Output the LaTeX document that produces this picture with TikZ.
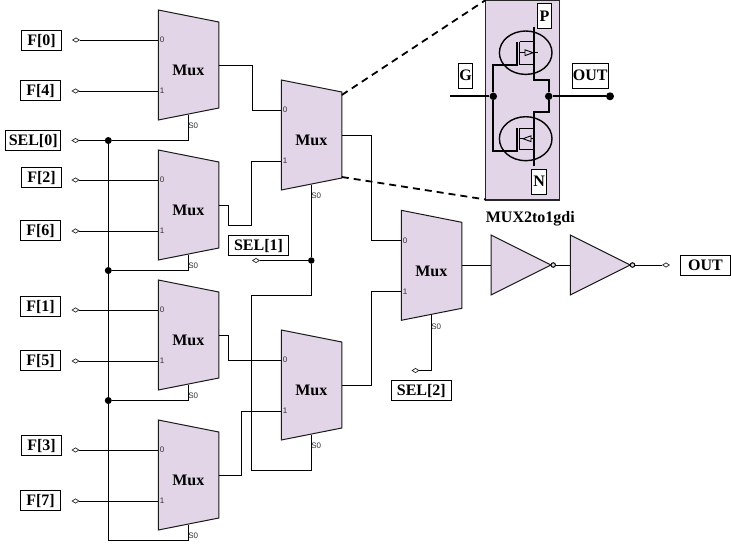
\documentclass[tikz,border=0pt]{standalone}
\usepackage{fontspec}
\setmainfont{Liberation Serif}
\newfontfamily\smallsans{Liberation Sans}
\usetikzlibrary{shapes.geometric,arrows.meta}
\definecolor{lilac}{HTML}{E1D5E7}
\tikzset{
  wire/.style={line width=1pt,black},
  fet/.style={line width=1.7pt,black,line join=miter},
  muxbody/.style={draw=black!90,fill=lilac,line width=1pt},
  lab/.style={draw=black,fill=white,line width=1pt,inner sep=0pt,font=\fontsize{16}{16}\selectfont\bfseries,minimum height=20pt,text height=10.5pt,text depth=0pt},
  tall/.style={lab,minimum height=25pt},
  pin/.style={font=\smallsans\fontsize{8}{8}\selectfont,text=black!80,inner sep=0pt},
  muxname/.style={font=\fontsize{16}{16}\selectfont\bfseries,inner sep=0pt,text height=10.5pt,text depth=0pt},
  port/.style={diamond,draw=black!85,fill=white,line width=0.7pt,inner sep=0pt,minimum width=7pt,minimum height=4.5pt,aspect=1.6},
  junction/.style={circle,fill=black,inner sep=0pt,minimum size=7pt},
  bubble/.style={circle,draw=black,fill=lilac,line width=1pt,inner sep=0pt,minimum size=4.5pt},
  zoomline/.style={line width=1.8pt,dash pattern=on 7pt off 5pt},
}
\newcommand{\muxblock}[3]{%
  \path[muxbody,draw] (#2,#3) -- (#2+60.5,#3+12) -- (#2+60.5,#3+98) -- (#2,#3+110) -- cycle;
  \node[muxname] (#1) at (#2+30,#3+60.5) {Mux};
  \node[pin] (#1-n0) at (#2+3.7,#3+30) {0};
  \node[pin] (#1-n1) at (#2+3.7,#3+81) {1};
  \node[pin] (#1-ns) at (#2+35,#3+116) {S0};
  \coordinate (#1-i0) at (#2,#3+30);
  \coordinate (#1-i1) at (#2,#3+81);
  \coordinate (#1-o) at (#2+60.5,#3+55);
  \coordinate (#1-s) at (#2+30,#3+104.5);
}
\begin{document}
\begin{tikzpicture}[x=1pt,y=-1pt]
\useasboundingbox (0,0) rectangle (731,550);
\fill[white] (0,0) rectangle (731,550);

% multiplexers
\muxblock{ma}{158.3}{10}
\muxblock{mb}{158.3}{150}
\muxblock{mc}{158.3}{280}
\muxblock{md}{158.3}{420}
\muxblock{me}{281.3}{80}
\muxblock{mf}{281.3}{330}
\muxblock{mg}{401.3}{210.3}

% input labels and ports
\node[lab,minimum width=40pt] (F0) at (41.5,40.3) {F[0]};
\node[lab,minimum width=40pt] (F4) at (40.5,90.5) {F[4]};
\node[lab,minimum width=54.5pt] (S0) at (33.2,140.5) {SEL[0]};
\node[lab,minimum width=40pt] (F2) at (41.5,177.5) {F[2]};
\node[lab,minimum width=40pt] (F6) at (40.5,230.5) {F[6]};
\node[lab,minimum width=40pt] (F1) at (40.5,306.5) {F[1]};
\node[lab,minimum width=40pt] (F5) at (40.5,360.5) {F[5]};
\node[lab,minimum width=40pt] (F3) at (41.5,445) {F[3]};
\node[lab,minimum width=40pt] (F7) at (40.5,500.5) {F[7]};
\node[lab,minimum width=60pt] (S1) at (258.5,245.3) {SEL[1]};
\node[lab,minimum width=60pt] (S2) at (421.3,390.3) {SEL[2]};
\node[lab,minimum width=50pt] (OUTB) at (705.5,265) {OUT};

\node[port] (pF0) at (76,40) {};
\node[port] (pF4) at (75.5,91) {};
\node[port] (pS0) at (75.5,140.5) {};
\node[port] (pF2) at (75.5,180) {};
\node[port] (pF6) at (75.5,231) {};
\node[port] (pF1) at (75.5,310) {};
\node[port] (pF5) at (75.5,361) {};
\node[port] (pF3) at (75.5,450) {};
\node[port] (pF7) at (75.5,501) {};
\node[port] (pS1) at (256,260.5) {};
\node[port] (pS2) at (415.5,370.5) {};
\node[port] (pOUT) at (666,265) {};

% inputs
\draw[wire] (pF0.east) -- (ma-i0);
\draw[wire] (pF4.east) -- (ma-i1);
\draw[wire] (pF2.east) -- (mb-i0);
\draw[wire] (pF6.east) -- (mb-i1);
\draw[wire] (pF1.east) -- (mc-i0);
\draw[wire] (pF5.east) -- (mc-i1);
\draw[wire] (pF3.east) -- (md-i0);
\draw[wire] (pF7.east) -- (md-i1);

% SEL[0] net
\node[junction] (j0) at (108.3,140.5) {};
\node[junction] (j1) at (108.3,270.5) {};
\node[junction] (j2) at (108.3,400.5) {};
\coordinate (j3) at (108.3,540.3);
\draw[wire] (pS0.east) -- (j0);
\draw[wire] (j0) -- (ma-s |- j0) -- (ma-s);
\draw[wire] (j1) -- (mb-s |- j1) -- (mb-s);
\draw[wire] (j2) -- (mc-s |- j2) -- (mc-s);
\draw[wire] (j0) -- (j1) -- (j2) -- (j3) -- (md-s |- j3) -- (md-s);

% first stage to second stage
\coordinate (ra) at (252,65);
\draw[wire] (ma-o) -- (ra) -- (ra |- me-i0) -- (me-i0);
\coordinate (rb1) at (228.5,205);
\coordinate (rb2) at (228.5,225);
\coordinate (rb3) at (251.5,225);
\draw[wire] (mb-o) -- (rb1) -- (rb2) -- (rb3) -- (rb3 |- me-i1) -- (me-i1);
\coordinate (rc) at (228.5,335);
\draw[wire] (mc-o) -- (rc) -- (rc |- mf-i0) -- (mf-i0);
\coordinate (rd) at (241.7,475);
\draw[wire] (md-o) -- (rd) -- (rd |- mf-i1) -- (mf-i1);

% SEL[1] net
\node[junction,minimum size=6.5pt] (j4) at (311.3,260.5) {};
\coordinate (k1) at (311.3,295.5);
\coordinate (k2) at (251.7,295.5);
\coordinate (k3) at (251.7,470.3);
\draw[wire] (pS1.east) -- (j4);
\draw[wire] (me-s) -- (j4) -- (k1) -- (k2) -- (k3) -- (mf-s |- k3) -- (mf-s);

% second stage to third stage
\coordinate (re) at (371.7,135);
\draw[wire] (me-o) -- (re) -- (re |- mg-i0) -- (mg-i0);
\coordinate (rf) at (371.7,385);
\draw[wire] (mf-o) -- (rf) -- (rf |- mg-i1) -- (mg-i1);

% SEL[2]
\draw[wire] (mg-s) -- (mg-s |- pS2) -- (pS2.east);

% output buffers
\path[muxbody] (491,235) -- (551,265) -- (491,295) -- cycle;
\path[muxbody] (570.3,235) -- (630.3,265) -- (570.3,295) -- cycle;
\node[bubble] (ba) at (553.2,265) {};
\node[bubble] (bb) at (632.5,265) {};
\coordinate (ta) at (491,265);
\coordinate (tb) at (570.3,265);
\draw[wire] (mg-o |- ta) -- (ta);
\draw[wire] (ba) -- (tb);
\draw[wire] (bb) -- (pOUT.west);

% zoom panel
\draw[draw=black!85,fill=lilac,line width=1.2pt] (485.7,0) rectangle (559.3,200);
\coordinate (za) at (341.8,95);
\coordinate (zb) at (485.7,0);
\coordinate (zc) at (341.8,177);
\coordinate (zd) at (485.7,199.5);
\draw[zoomline] (za) -- (zb);
\draw[zoomline] (zc) -- (zd);

% transistors
\draw[line width=1.4pt] (525.7,52.7) ellipse [x radius=26.3,y radius=21.7];
\draw[line width=1.4pt] (525.7,138.7) ellipse [x radius=26.3,y radius=22];

\node[junction,minimum size=7.5pt] (ng) at (493.3,96.3) {};
\node[junction,minimum size=7.5pt] (no) at (548.7,96.3) {};
\node[junction,minimum size=8pt] (nt) at (610,96.3) {};
\coordinate (gin) at (450,96.3);
\draw[fet] (gin) -- (ng);
\draw[fet] (no) -- (nt);
% gate rail
\coordinate (gp) at (517.3,65.3);
\coordinate (gn) at (517.3,150.7);
\draw[fet] (ng) -- (ng |- gp) -- (gp) -- (517.3,41.7);
\draw[fet] (ng) -- (ng |- gn) -- (gn) -- (517.3,128.3);
% P device
\draw[line width=1pt] (519.6,41.7) -- (519.6,65);
\draw[fet] (534,26.7) -- (534,80) -- (548.7,80) -- (no);
\draw[line width=1.2pt] (519.6,41.7) -- (534,41.7);
\draw[line width=1.2pt] (519.6,64.5) -- (534,64.5);
\draw[line width=0.9pt] (519.6,52.7) -- (525,52.7);
\draw[line width=0.9pt,fill=lilac] (525,49.8) -- (533,52.7) -- (525,55.6) -- cycle;
\draw[line width=0.9pt] (533,52.7) -- (537.5,52.7);
% N device
\draw[line width=1pt] (519.6,128.3) -- (519.6,150);
\draw[fet] (no) -- (548.7,112) -- (534,112) -- (534,165.7);
\draw[line width=1.2pt] (519.6,128.3) -- (534,128.3);
\draw[line width=1.2pt] (519.6,149.3) -- (534,149.3);
\draw[line width=0.9pt] (519.6,138.7) -- (534,138.7);
\draw[line width=0.9pt,fill=lilac] (531,135.8) -- (523,138.7) -- (531,141.6) -- cycle;

% panel labels
\node[tall,minimum width=14pt] (G) at (465.7,75.5) {G};
\node[tall,minimum width=14.5pt] (P) at (544.5,15.8) {P};
\node[tall,minimum width=15.5pt] (N) at (539.2,181.5) {N};
\node[tall,minimum width=36pt] (OUTT) at (590.3,75.5) {OUT};
\node[font=\fontsize{16}{16}\selectfont\bfseries,inner sep=0pt,text height=10.5pt,text depth=0pt] (title) at (530.3,217.7) {MUX2to1gdi};
\end{tikzpicture}
\end{document}
